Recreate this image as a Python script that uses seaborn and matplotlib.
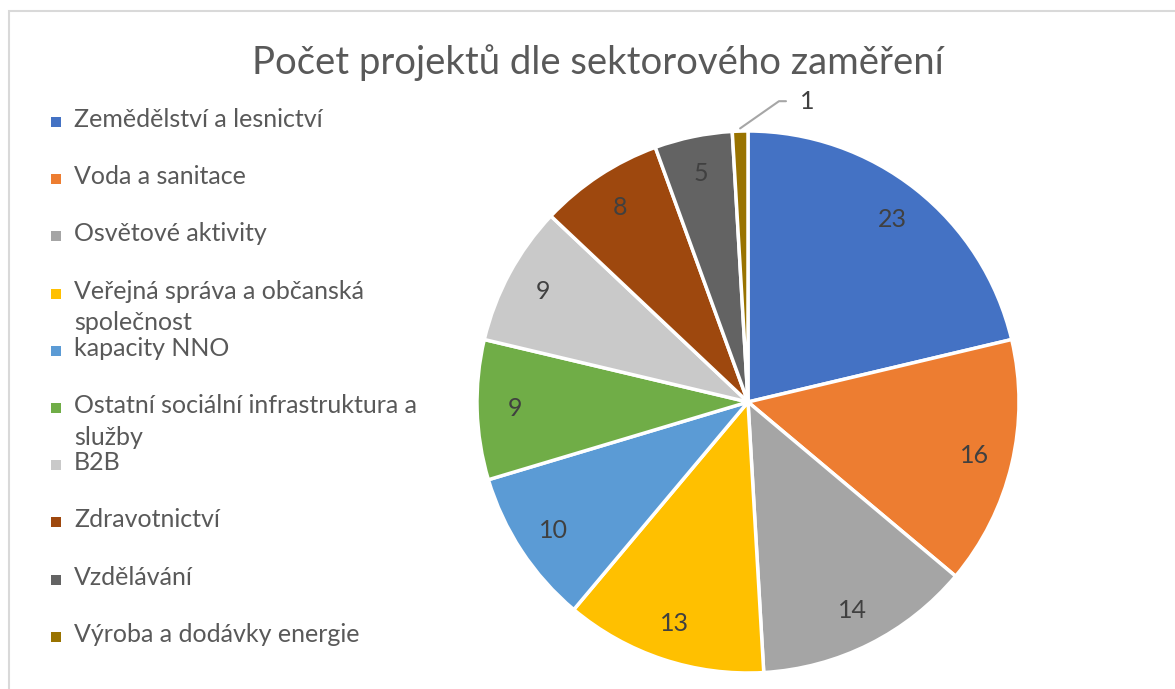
import numpy as np
import matplotlib.pyplot as plt
import matplotlib.patches as mpatches
import seaborn as sns

sectors = ["Zemědělství a lesnictví", "Voda a sanitace", "Osvětové aktivity",
           "Veřejná správa a občanská\nspolečnost", "kapacity NNO",
           "Ostatní sociální infrastruktura a\nslužby", "B2B", "Zdravotnictví",
           "Vzdělávání", "Výroba a dodávky energie"]
counts = [23, 16, 14, 13, 10, 9, 9, 8, 5, 1]
colors = ["#4472C4", "#ED7D31", "#A5A5A5", "#FFC000", "#5B9BD5",
          "#70AD47", "#C9C9C9", "#9E480E", "#636363", "#997300"]

sns.set_theme(style="white")
plt.rcParams['font.family'] = ['Lato', 'DejaVu Sans']
txt = "#595959"

W, H = 1175, 689
fig = plt.figure(figsize=(W / 100, H / 100), dpi=100)

# light frame like the Excel chart area
fig.patches.append(mpatches.Rectangle((9 / W, -0.01), 1.0, (H - 11) / H + 0.01,
                                      transform=fig.transFigure, fill=False,
                                      edgecolor="#D9D9D9", linewidth=1.5))

fig.text(598 / W, 1 - 63 / H, "Počet projektů dle sektorového zaměření",
         ha="center", va="center", fontsize=27.5, color=txt)

# pie
cx, cy, r = 748, 402, 271
ax = fig.add_axes([(cx - r) / W, (H - cy - r) / H, 2 * r / W, 2 * r / H])
pal = sns.color_palette(colors)
wedges, _ = ax.pie(counts, colors=pal, startangle=90, counterclock=False,
                   wedgeprops=dict(edgecolor="white", linewidth=2.5))
ax.set_xlim(-1, 1)
ax.set_ylim(-1, 1)
ax.set_aspect("equal")
ax.axis("off")

for w, v in zip(wedges, counts):
    ang = np.deg2rad((w.theta1 + w.theta2) / 2)
    if v > 2:
        ax.text(0.86 * np.cos(ang), 0.86 * np.sin(ang), str(v), ha="center",
                va="center", fontsize=18, color="#404040")
    else:
        x0, y0 = np.cos(ang), np.sin(ang)
        ax.annotate(str(v), xy=(x0, y0 + 0.01), xytext=(0.22, 1.11),
                    ha="center", va="center", fontsize=18, color="#404040",
                    annotation_clip=False,
                    arrowprops=dict(arrowstyle="-", color="#A6A6A6", lw=1.5,
                                    shrinkA=8, shrinkB=0,
                                    connectionstyle="angle,angleA=0,angleB=35,rad=0"))

# legend
y0, step = 122, 57.2
for i, (lab, c) in enumerate(zip(sectors, colors)):
    y = y0 + i * step
    fig.patches.append(mpatches.Rectangle((51 / W, 1 - (y + 5) / H), 10 / W, 10 / H,
                                          transform=fig.transFigure,
                                          facecolor=c, edgecolor="none"))
    fig.text(74 / W, 1 - (y - 14) / H, lab, ha="left", va="top", fontsize=18,
             color=txt, linespacing=1.45)

fig.savefig("out.png", dpi=100)
